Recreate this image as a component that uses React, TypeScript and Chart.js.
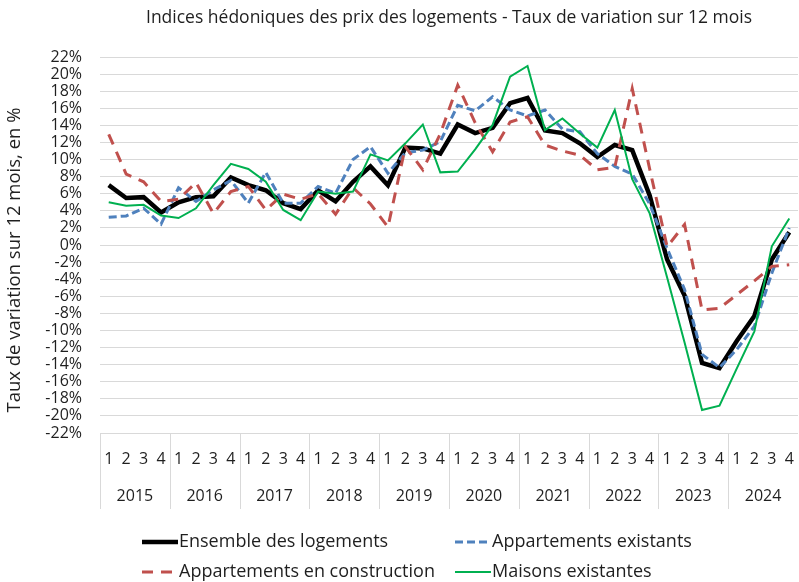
import React, { useEffect, useRef } from 'react';
import { Chart, registerables } from 'chart.js';

Chart.register(...registerables);

const years = ['2015', '2016', '2017', '2018', '2019', '2020', '2021', '2022', '2023', '2024'];
const quarterLabels = ['1', '2', '3', '4'];
const categories = years.flatMap((y) => quarterLabels.map((q) => `${q}`));

const chartTitle = 'Indices hédoniques des prix des logements - Taux de variation sur 12 mois';
const yAxisTitle = 'Taux de variation sur 12 mois, en %';

const yMin = -22;
const yMax = 22;
const yStep = 2;

const ensembleLogements = [
  7.0, 5.5, 5.6, 3.8,
  5.0, 5.6, 5.7, 7.9,
  7.0, 6.4, 4.9, 4.2,
  6.4, 5.1, 7.4, 9.2,
  7.0, 11.4, 11.3, 10.7,
  14.1, 13.1, 13.7, 16.6,
  17.2, 13.4, 13.1, 11.9,
  10.3, 11.7, 11.1, 5.8,
  -1.7, -5.9, -13.8, -14.4,
  -11.2, -8.3, -1.7, 1.5,
];

const appartementsExistants = [
  3.25, 3.4, 4.3, 2.45,
  6.7, 5.1, 6.45, 7.55,
  4.9, 8.5, 4.9, 4.9,
  6.85, 6.05, 10.0, 11.5,
  8.4, 10.8, 11.1, 12.1,
  16.35, 15.7, 17.35, 15.8,
  15.1, 15.8, 13.55, 13.25,
  10.7, 9.2, 8.3, 4.8,
  -0.4, -5.2, -12.8, -14.35,
  -12.2, -9.5, -3.3, 2.0,
];

const appartementsConstruction = [
  12.95, 8.3, 7.4, 5.1,
  5.35, 7.3, 3.7, 6.25,
  6.85, 4.1, 5.95, 5.35,
  6.0, 3.6, 6.7, 4.8,
  2.1, 11.5, 8.8, 13.0,
  18.7, 14.3, 10.9, 14.4,
  15.0, 11.7, 11.0, 10.5,
  8.8, 9.1, 18.3, 8.9,
  -0.2, 2.4, -7.6, -7.4,
  -5.8, -4.2, -2.5, -2.3,
];

const maisonsExistantes = [
  5.0, 4.6, 4.7, 3.45,
  3.15, 4.3, 7.0, 9.5,
  8.9, 7.4, 4.1, 2.9,
  6.25, 6.0, 6.25, 10.6,
  9.9, 11.9, 14.1, 8.5,
  8.6, 11.2, 14.05, 19.7,
  20.95, 13.45, 14.8, 13.05,
  11.4, 15.8, 7.7, 3.7,
  -3.8, -11.4, -19.3, -18.8,
  -14.4, -10.1, -0.15, 3.1,
];

const FONT = "'Open Sans', 'Noto Sans', sans-serif";
const TEXT = '#1f1f1f';
const GRID = '#d9d9d9';

const overlayPlugin = {
  id: 'overlay',
  afterDraw(chart: any) {
    const ctx = chart.ctx as CanvasRenderingContext2D;
    const area = chart.chartArea;
    const xs = chart.scales.x;
    ctx.save();

    // title
    ctx.fillStyle = TEXT;
    ctx.font = `17.5px ${FONT}`;
    ctx.textAlign = 'center';
    ctx.textBaseline = 'middle';
    ctx.fillText(chartTitle, (area.left + area.right) / 2, 18);

    // y axis title
    ctx.save();
    ctx.translate(15, 260);
    ctx.rotate(-Math.PI / 2);
    ctx.font = `18.5px ${FONT}`;
    ctx.fillText(yAxisTitle, 0, 0);
    ctx.restore();

    // x axis separators
    ctx.strokeStyle = GRID;
    ctx.lineWidth = 1;
    for (let k = 0; k < years.length; k++) {
      let px: number;
      if (k === 0) px = area.left;
      else px = (xs.getPixelForValue(k * 4 - 1) + xs.getPixelForValue(k * 4)) / 2;
      px = Math.round(px) + 0.5;
      ctx.beginPath();
      ctx.moveTo(px, area.bottom);
      ctx.lineTo(px, area.bottom + 76);
      ctx.stroke();
    }

    // quarter labels
    ctx.fillStyle = TEXT;
    ctx.font = `16px ${FONT}`;
    ctx.textAlign = 'center';
    ctx.textBaseline = 'middle';
    categories.forEach((lab, i) => {
      ctx.fillText(lab, xs.getPixelForValue(i), area.bottom + 26);
    });
    years.forEach((y, k) => {
      const cx = (xs.getPixelForValue(k * 4) + xs.getPixelForValue(k * 4 + 3)) / 2;
      ctx.fillText(y, cx, area.bottom + 63);
    });

    // legend
    const pos = [
      [142, 542],
      [455, 542],
      [142, 572],
      [455, 572],
    ];
    ctx.font = `18px ${FONT}`;
    ctx.textAlign = 'left';
    chart.data.datasets.forEach((ds: any, i: number) => {
      const [lx, ly] = pos[i];
      ctx.save();
      ctx.strokeStyle = ds.borderColor;
      ctx.lineWidth = ds.borderWidth;
      ctx.setLineDash(ds.borderDash || []);
      ctx.beginPath();
      ctx.moveTo(lx, ly);
      ctx.lineTo(lx + 36, ly);
      ctx.stroke();
      ctx.restore();
      ctx.fillStyle = TEXT;
      ctx.fillText(ds.label, lx + 37, ly);
    });

    ctx.restore();
  },
};

export default function App() {
  const ref = useRef<HTMLCanvasElement>(null);

  useEffect(() => {
    if (!ref.current) return;
    const chart = new Chart(ref.current, {
      type: 'line',
      data: {
        labels: categories,
        datasets: [
          {
            label: 'Ensemble des logements',
            data: ensembleLogements,
            borderColor: '#000000',
            backgroundColor: '#000000',
            borderWidth: 4.5,
            pointRadius: 0,
            tension: 0,
            order: 4,
          },
          {
            label: 'Appartements existants',
            data: appartementsExistants,
            borderColor: '#4f81bd',
            backgroundColor: '#4f81bd',
            borderWidth: 3,
            borderDash: [8, 4],
            pointRadius: 0,
            tension: 0,
            order: 3,
          },
          {
            label: 'Appartements en construction',
            data: appartementsConstruction,
            borderColor: '#c0504d',
            backgroundColor: '#c0504d',
            borderWidth: 3,
            borderDash: [11, 8],
            pointRadius: 0,
            tension: 0,
            order: 2,
          },
          {
            label: 'Maisons existantes',
            data: maisonsExistantes,
            borderColor: '#00b050',
            backgroundColor: '#00b050',
            borderWidth: 2,
            pointRadius: 0,
            tension: 0,
            order: 1,
          },
        ],
      },
      options: {
        animation: false,
        responsive: false,
        layout: { padding: { top: 57, right: 1, bottom: 149, left: 0 } },
        scales: {
          x: {
            type: 'category',
            offset: true,
            grid: { display: false },
            border: { display: false },
            ticks: { display: false },
            afterFit: (s: any) => {
              s.height = 0;
            },
          },
          y: {
            min: yMin,
            max: yMax,
            ticks: {
              stepSize: yStep,
              autoSkip: false,
              callback: (v: any) => `${v}%`,
              font: { family: FONT, size: 16, lineHeight: 1 },
              color: TEXT,
              padding: 18,
            },
            grid: { color: GRID, drawTicks: false, lineWidth: 1 },
            border: { display: false },
            title: { display: false },
            afterFit: (s: any) => {
              s.width = 100;
            },
          },
        },
        plugins: {
          legend: { display: false },
          tooltip: { enabled: false },
          title: { display: false },
        },
      },
      plugins: [overlayPlugin],
    });
    return () => chart.destroy();
  }, []);

  return (
    <div style={{ position: 'absolute', left: 0, top: 0, width: 799, height: 582 }}>
      <canvas ref={ref} width={799} height={582} />
    </div>
  );
}
